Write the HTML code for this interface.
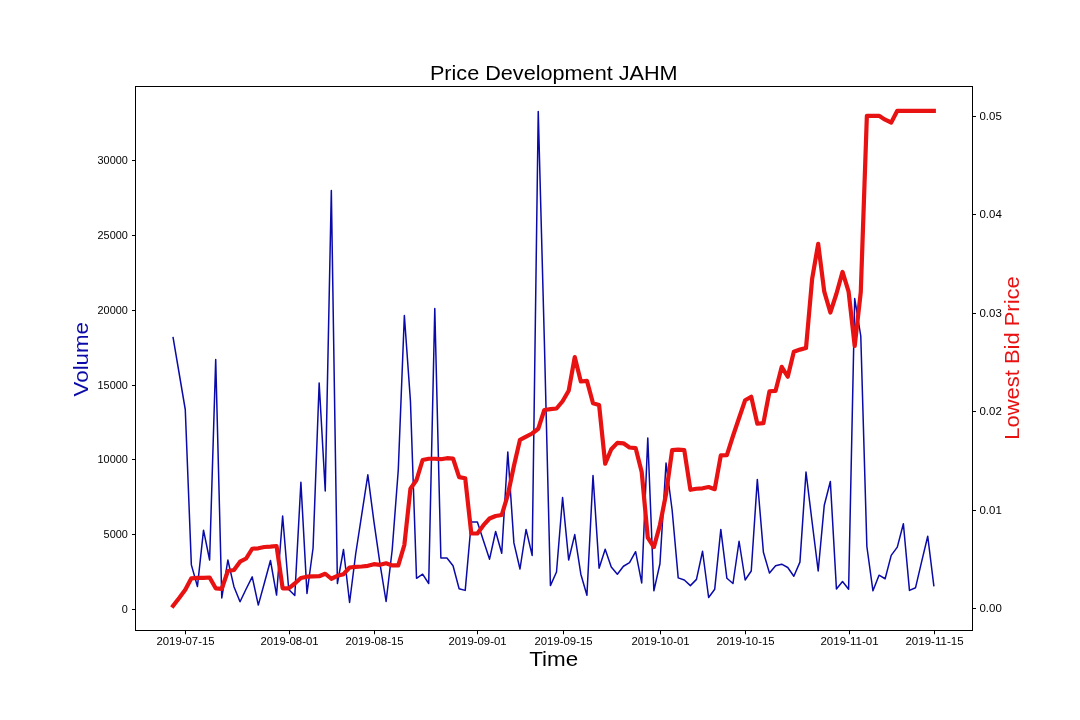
<!DOCTYPE html>
<html><head><meta charset="utf-8"><title>Price Development JAHM</title>
<style>html,body{margin:0;padding:0;background:#fff;} svg{display:block;will-change:transform;}</style></head>
<body><svg width="1080" height="720" viewBox="0 0 1080 720">
<rect x="0" y="0" width="1080" height="720" fill="#fff"/>
<path d="M173.10,337.70 L179.18,373.50 L185.27,409.50 L191.36,564.90 L197.44,586.50 L203.53,530.20 L209.61,560.00 L215.70,359.50 L221.78,597.90 L227.87,560.00 L233.96,586.70 L240.04,601.80 L246.13,589.00 L252.21,576.80 L258.30,605.10 L264.38,583.00 L270.47,560.50 L276.56,595.10 L282.64,516.00 L288.73,589.50 L294.81,595.50 L300.90,482.30 L306.98,593.50 L313.07,548.00 L319.16,383.00 L325.24,491.00 L331.33,190.50 L337.41,583.50 L343.50,549.50 L349.58,602.50 L355.67,554.00 L361.76,514.40 L367.84,474.80 L373.93,521.70 L380.01,563.80 L386.10,601.50 L392.18,550.00 L398.27,470.00 L404.36,315.50 L410.44,401.00 L416.53,578.30 L422.61,574.20 L428.70,583.50 L434.78,308.50 L440.87,558.00 L446.96,558.00 L453.04,565.80 L459.13,588.70 L465.21,590.40 L471.30,522.00 L477.38,522.00 L483.47,540.80 L489.56,559.20 L495.64,531.50 L501.73,553.30 L507.81,452.00 L513.90,542.90 L519.98,569.00 L526.07,529.40 L532.15,555.40 L538.24,111.50 L544.33,340.00 L550.41,585.60 L556.50,572.00 L562.58,497.50 L568.67,560.00 L574.75,534.60 L580.84,574.20 L586.93,595.20 L593.01,475.50 L599.10,568.30 L605.18,549.20 L611.27,566.90 L617.35,574.20 L623.44,566.25 L629.53,562.70 L635.61,551.70 L641.70,582.90 L647.78,438.00 L653.87,590.80 L659.95,563.75 L666.04,463.00 L672.13,510.00 L678.21,577.90 L684.30,580.00 L690.38,585.60 L696.47,579.40 L702.55,551.25 L708.64,597.50 L714.73,589.20 L720.81,529.40 L726.90,578.30 L732.98,583.50 L739.07,541.25 L745.15,580.00 L751.24,571.00 L757.33,479.40 L763.41,552.30 L769.50,573.10 L775.58,565.80 L781.67,564.20 L787.75,567.50 L793.84,576.25 L799.93,562.10 L806.01,472.00 L812.10,522.00 L818.18,571.00 L824.27,505.20 L830.35,481.50 L836.44,589.00 L842.53,581.50 L848.61,589.20 L854.70,298.50 L860.78,336.00 L866.87,546.50 L872.95,590.80 L879.04,575.20 L885.13,578.75 L891.21,555.40 L897.30,547.10 L903.38,523.75 L909.47,590.40 L915.55,587.70 L921.64,561.70 L927.73,536.25 L933.81,585.60" fill="none" stroke="#0a0aa8" stroke-width="1.5" stroke-linejoin="round" stroke-linecap="square"/>
<path d="M173.10,605.80 L179.18,598.00 L185.27,589.80 L191.36,578.30 L197.44,577.90 L203.53,577.90 L209.61,577.50 L215.70,588.30 L221.78,588.80 L227.87,571.00 L233.96,570.00 L240.04,561.70 L246.13,558.50 L252.21,548.75 L258.30,548.30 L264.38,547.00 L270.47,546.70 L276.56,546.00 L282.64,588.30 L288.73,588.30 L294.81,583.50 L300.90,578.00 L306.98,576.70 L313.07,576.30 L319.16,576.25 L325.24,573.75 L331.33,578.75 L337.41,575.80 L343.50,574.20 L349.58,567.50 L355.67,566.90 L361.76,566.50 L367.84,565.80 L373.93,564.20 L380.01,564.80 L386.10,563.30 L392.18,565.40 L398.27,565.40 L404.36,545.00 L410.44,488.75 L416.53,480.00 L422.61,460.00 L428.70,458.75 L434.78,458.75 L440.87,459.20 L446.96,458.20 L453.04,458.50 L459.13,477.10 L465.21,478.30 L471.30,533.50 L477.38,533.50 L483.47,525.20 L489.56,518.50 L495.64,516.00 L501.73,515.00 L507.81,495.00 L513.90,466.00 L519.98,439.80 L526.07,436.70 L532.15,433.50 L538.24,428.75 L544.33,410.00 L550.41,409.20 L556.50,408.50 L562.58,401.25 L568.67,390.80 L574.75,357.10 L580.84,381.50 L586.93,380.80 L593.01,403.30 L599.10,405.00 L605.18,463.75 L611.27,449.20 L617.35,442.90 L623.44,443.30 L629.53,447.50 L635.61,448.10 L641.70,472.00 L647.78,537.70 L653.87,547.10 L659.95,525.00 L666.04,494.00 L672.13,450.20 L678.21,449.60 L684.30,450.20 L690.38,489.80 L696.47,488.75 L702.55,488.30 L708.64,487.00 L714.73,489.20 L720.81,455.40 L726.90,455.20 L732.98,436.00 L739.07,418.00 L745.15,400.20 L751.24,396.70 L757.33,423.75 L763.41,423.10 L769.50,391.25 L775.58,390.80 L781.67,366.90 L787.75,376.70 L793.84,351.70 L799.93,349.60 L806.01,348.00 L812.10,279.20 L818.18,243.75 L824.27,291.70 L830.35,312.50 L836.44,293.75 L842.53,271.90 L848.61,291.70 L854.70,346.00 L860.78,292.00 L866.87,115.80 L872.95,115.80 L879.04,115.80 L885.13,119.70 L891.21,122.50 L897.30,110.80 L903.38,110.80 L909.47,110.80 L915.55,110.80 L921.64,110.80 L927.73,110.80 L933.81,110.80" fill="none" stroke="#e81212" stroke-width="4.2" stroke-linejoin="round" stroke-linecap="square"/>
<rect x="135.5" y="86.5" width="837.0" height="544.0" fill="none" stroke="#000" stroke-width="1"/>
<path d="M132.0,609.50 L135.5,609.50 M132.0,534.50 L135.5,534.50 M132.0,459.50 L135.5,459.50 M132.0,385.50 L135.5,385.50 M132.0,310.50 L135.5,310.50 M132.0,235.50 L135.5,235.50 M132.0,160.50 L135.5,160.50 M972.5,608.50 L976.0,608.50 M972.5,510.50 L976.0,510.50 M972.5,411.50 L976.0,411.50 M972.5,313.50 L976.0,313.50 M972.5,214.50 L976.0,214.50 M972.5,116.50 L976.0,116.50 M185.50,630.5 L185.50,634.3 M289.50,630.5 L289.50,634.3 M374.50,630.5 L374.50,634.3 M477.50,630.5 L477.50,634.3 M563.50,630.5 L563.50,634.3 M660.50,630.5 L660.50,634.3 M745.50,630.5 L745.50,634.3 M849.50,630.5 L849.50,634.3 M934.50,630.5 L934.50,634.3" stroke="#000" stroke-width="1" fill="none"/>
<g font-family='"Liberation Sans", sans-serif' fill="#000"><text x="127.80" y="613.10" font-size="10" text-anchor="end" textLength="6.04" lengthAdjust="spacingAndGlyphs">0</text><text x="127.80" y="538.10" font-size="10" text-anchor="end" textLength="24.18" lengthAdjust="spacingAndGlyphs">5000</text><text x="127.80" y="463.10" font-size="10" text-anchor="end" textLength="30.22" lengthAdjust="spacingAndGlyphs">10000</text><text x="127.80" y="389.10" font-size="10" text-anchor="end" textLength="30.22" lengthAdjust="spacingAndGlyphs">15000</text><text x="127.80" y="314.10" font-size="10" text-anchor="end" textLength="30.22" lengthAdjust="spacingAndGlyphs">20000</text><text x="127.80" y="239.10" font-size="10" text-anchor="end" textLength="30.22" lengthAdjust="spacingAndGlyphs">25000</text><text x="127.80" y="164.10" font-size="10" text-anchor="end" textLength="30.22" lengthAdjust="spacingAndGlyphs">30000</text><text x="979.5" y="612.10" font-size="10" textLength="22.27" lengthAdjust="spacingAndGlyphs">0.00</text><text x="979.5" y="514.10" font-size="10" textLength="22.27" lengthAdjust="spacingAndGlyphs">0.01</text><text x="979.5" y="415.10" font-size="10" textLength="22.27" lengthAdjust="spacingAndGlyphs">0.02</text><text x="979.5" y="317.10" font-size="10" textLength="22.27" lengthAdjust="spacingAndGlyphs">0.03</text><text x="979.5" y="218.10" font-size="10" textLength="22.27" lengthAdjust="spacingAndGlyphs">0.04</text><text x="979.5" y="120.10" font-size="10" textLength="22.27" lengthAdjust="spacingAndGlyphs">0.05</text><text x="185.50" y="644.9" font-size="10" text-anchor="middle" textLength="58.12" lengthAdjust="spacingAndGlyphs">2019-07-15</text><text x="289.50" y="644.9" font-size="10" text-anchor="middle" textLength="58.12" lengthAdjust="spacingAndGlyphs">2019-08-01</text><text x="374.50" y="644.9" font-size="10" text-anchor="middle" textLength="58.12" lengthAdjust="spacingAndGlyphs">2019-08-15</text><text x="477.50" y="644.9" font-size="10" text-anchor="middle" textLength="58.12" lengthAdjust="spacingAndGlyphs">2019-09-01</text><text x="563.50" y="644.9" font-size="10" text-anchor="middle" textLength="58.12" lengthAdjust="spacingAndGlyphs">2019-09-15</text><text x="660.50" y="644.9" font-size="10" text-anchor="middle" textLength="58.12" lengthAdjust="spacingAndGlyphs">2019-10-01</text><text x="745.50" y="644.9" font-size="10" text-anchor="middle" textLength="58.12" lengthAdjust="spacingAndGlyphs">2019-10-15</text><text x="849.50" y="644.9" font-size="10" text-anchor="middle" textLength="58.12" lengthAdjust="spacingAndGlyphs">2019-11-01</text><text x="934.50" y="644.9" font-size="10" text-anchor="middle" textLength="58.12" lengthAdjust="spacingAndGlyphs">2019-11-15</text></g>
<text x="553.75" y="79.8" font-family='"Liberation Sans", sans-serif' font-size="20" text-anchor="middle" textLength="247.67" lengthAdjust="spacingAndGlyphs">Price Development JAHM</text>
<text x="553.75" y="666" font-family='"Liberation Sans", sans-serif' font-size="20" text-anchor="middle" textLength="48.95" lengthAdjust="spacingAndGlyphs">Time</text>
<text transform="translate(88.3,359.2) rotate(-90)" x="0" y="0" font-family='"Liberation Sans", sans-serif' font-size="20" text-anchor="middle" fill="#0a0aa8" textLength="74.38" lengthAdjust="spacingAndGlyphs">Volume</text>
<text transform="translate(1019.2,358) rotate(-90)" x="0" y="0" font-family='"Liberation Sans", sans-serif' font-size="20" text-anchor="middle" fill="#e81212" textLength="163.43" lengthAdjust="spacingAndGlyphs">Lowest Bid Price</text>
</svg></body></html>
